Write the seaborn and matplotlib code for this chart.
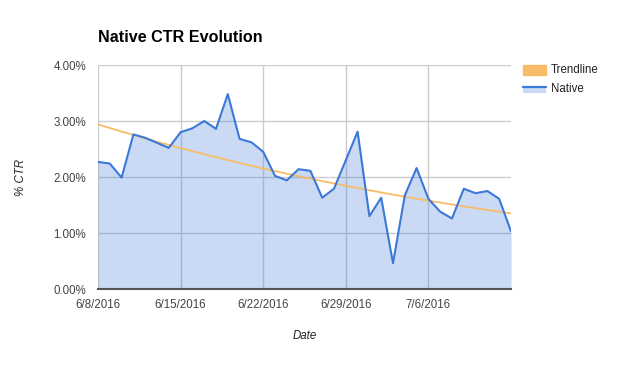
import numpy as np
import pandas as pd
import matplotlib
matplotlib.use("Agg")
import matplotlib.pyplot as plt
from matplotlib.patches import Rectangle
from matplotlib.lines import Line2D
import seaborn as sns

start_date = "2016-06-08"
ctr_values = [2.27, 2.24, 1.99, 2.76, 2.70, 2.61, 2.52, 2.80, 2.87, 3.00,
              2.86, 3.48, 2.68, 2.62, 2.45, 2.02, 1.94, 2.14, 2.11, 1.63,
              1.79, 2.30, 2.81, 1.30, 1.63, 0.46, 1.67, 2.16, 1.61, 1.38,
              1.26, 1.79, 1.71, 1.75, 1.61, 1.03]
tick_dates = ["2016-06-08", "2016-06-15", "2016-06-22", "2016-06-29", "2016-07-06"]
tick_labels = ["6/8/2016", "6/15/2016", "6/22/2016", "6/29/2016", "7/6/2016"]
y_ticks = [0, 1, 2, 3, 4]
y_tick_labels = ["0.00%", "1.00%", "2.00%", "3.00%", "4.00%"]

dates = pd.date_range(start_date, periods=len(ctr_values), freq="D")
df = pd.DataFrame({"Date": dates, "CTR": ctr_values})

# exponential trendline fitted to the data
t = np.arange(len(ctr_values))
b, a = np.polyfit(t, np.log(ctr_values), 1)
df["Trend"] = np.exp(a + b * t)

sns.set_style("white")
plt.rcParams["font.family"] = ["Liberation Sans", "DejaVu Sans"]

fig = plt.figure(figsize=(6.2, 3.65), dpi=100)
ax = fig.add_axes([98 / 620, 1 - 289 / 365, (511 - 98) / 620, (289 - 65) / 365])

line_c = "#3c78d8"
trend_c = "#f8bb68"
grid_c = "#cccccc"

ax.fill_between(df["Date"], df["CTR"], 0, color=line_c, alpha=0.27, linewidth=0, zorder=2)
sns.lineplot(data=df, x="Date", y="CTR", ax=ax, color=line_c, linewidth=1.5, zorder=4)
sns.lineplot(data=df, x="Date", y="Trend", ax=ax, color=trend_c, linewidth=1.3, zorder=3)

ax.set_xlim(dates[0], dates[-1])
ax.set_ylim(0, 4)
ax.set_yticks(y_ticks)
ax.set_yticklabels(y_tick_labels)
ax.set_xticks(pd.to_datetime(tick_dates))
ax.set_xticklabels(tick_labels)
ax.tick_params(axis="both", length=0, labelsize=8.3, colors="#444444")
ax.tick_params(axis="x", pad=7)
ax.tick_params(axis="y", pad=8.5)

ax.grid(True, color=grid_c, linewidth=1, zorder=1)
ax.set_axisbelow(True)
for side in ["top", "right", "left"]:
    ax.spines[side].set_visible(False)
ax.spines["bottom"].set_color("#555555")
ax.spines["bottom"].set_linewidth(1.5)
ax.spines["bottom"].set_zorder(5)

ax.set_xlabel("Date", fontstyle="italic", fontsize=8.3, color="#222222", labelpad=14)
ax.set_ylabel("% CTR", fontstyle="italic", fontsize=8.3, color="#222222")
ax.yaxis.set_label_coords(-71 / 413, 0.5)

fig.text(98 / 620, 1 - 38 / 365, "Native CTR Evolution", fontsize=11.6, fontweight="bold",
         va="center", ha="left", color="black")

# legend
fig.patches.append(Rectangle((523 / 620, 1 - 75 / 365), 23 / 620, 10 / 365,
                             transform=fig.transFigure, color=trend_c, figure=fig))
fig.text(551 / 620, 1 - 70 / 365, "Trendline", fontsize=8.3, va="center", color="#222222")
fig.patches.append(Rectangle((523 / 620, 1 - 93 / 365), 23 / 620, 6 / 365,
                             transform=fig.transFigure, color=line_c, alpha=0.27,
                             linewidth=0, figure=fig))
fig.lines.append(Line2D([523 / 620, 546 / 620], [1 - 87 / 365, 1 - 87 / 365],
                        transform=fig.transFigure, color=line_c, linewidth=1.6, figure=fig))
fig.text(551 / 620, 1 - 89 / 365, "Native", fontsize=8.3, va="center", color="#222222")

if ax.get_legend():
    ax.get_legend().remove()

fig.savefig("out.png", dpi=100)
